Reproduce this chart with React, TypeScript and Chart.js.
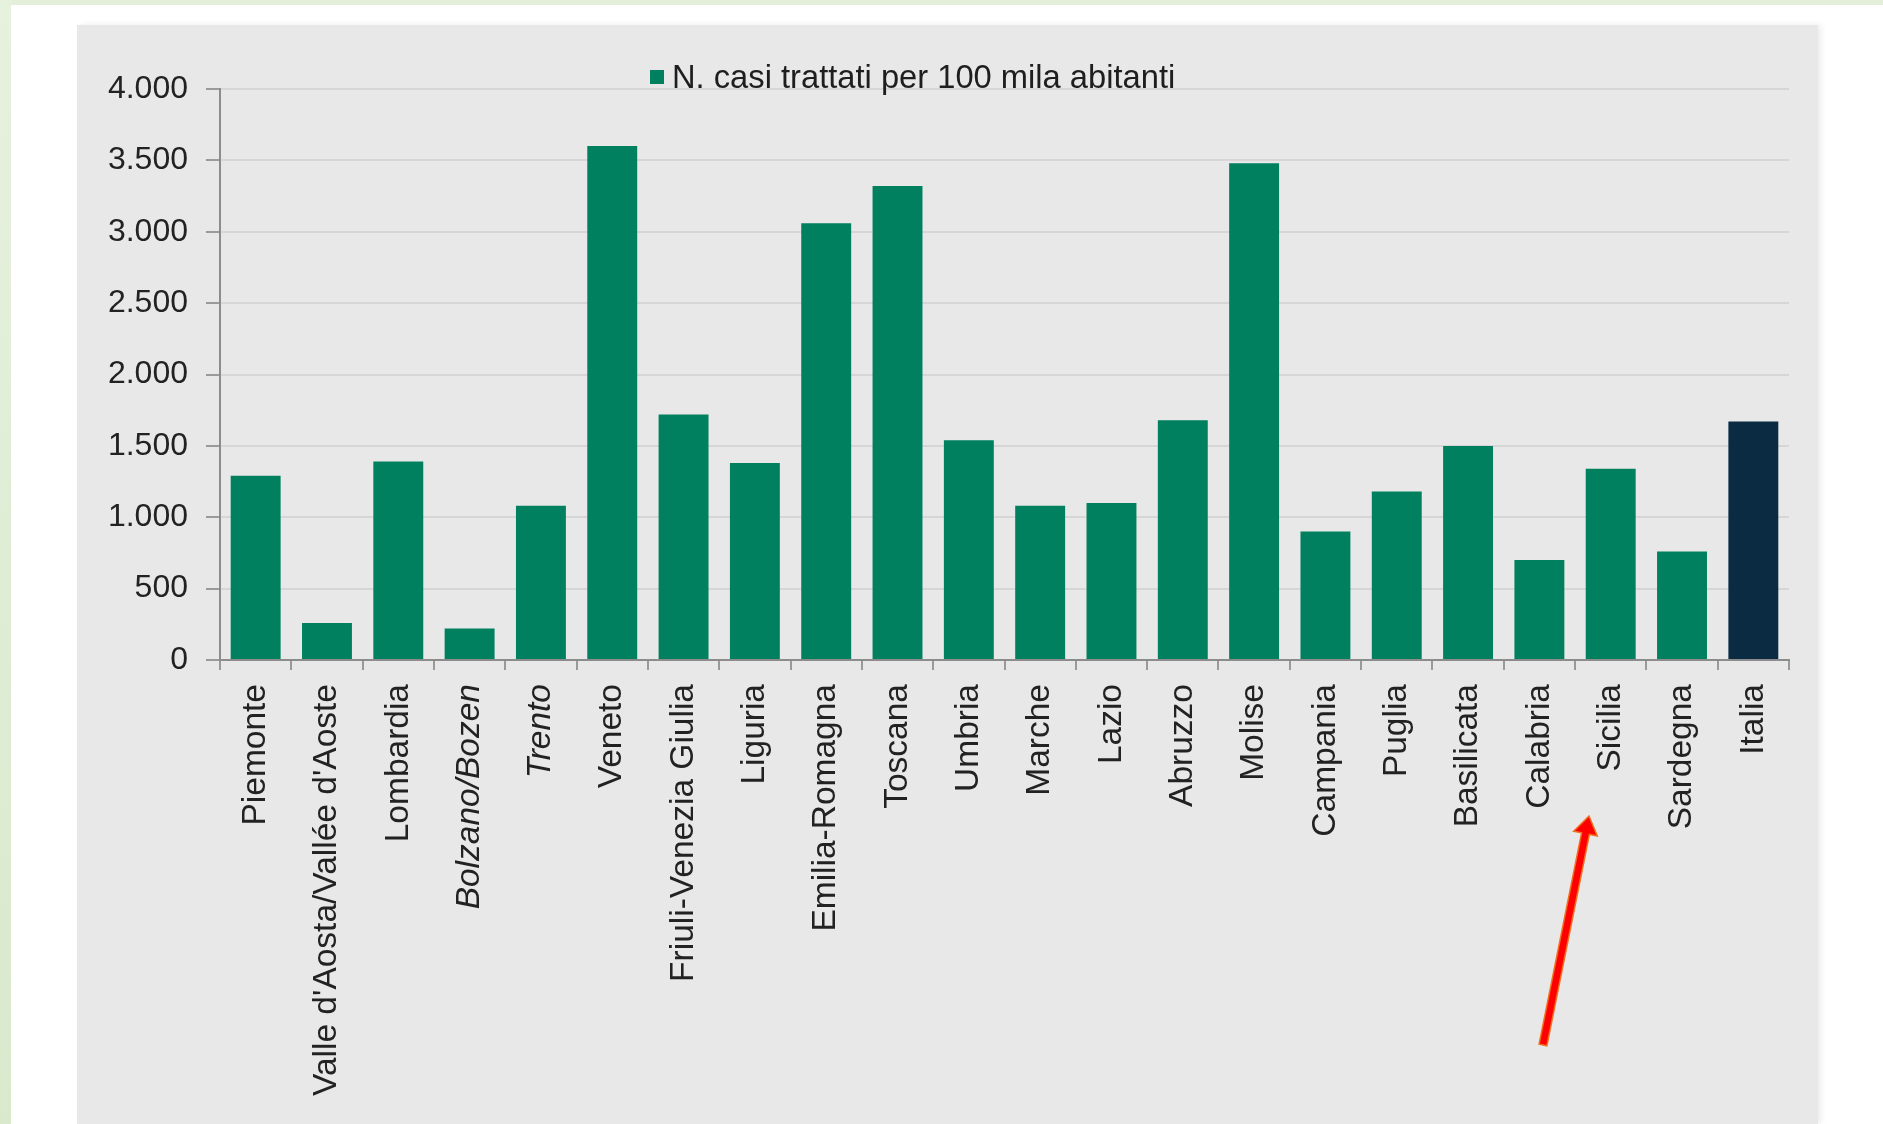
import { useEffect, useRef } from "react";
import { Chart, registerables } from "chart.js";

Chart.register(...registerables);

const categories = [
  "Piemonte",
  "Valle d'Aosta/Vallée d'Aoste",
  "Lombardia",
  "Bolzano/Bozen",
  "Trento",
  "Veneto",
  "Friuli-Venezia Giulia",
  "Liguria",
  "Emilia-Romagna",
  "Toscana",
  "Umbria",
  "Marche",
  "Lazio",
  "Abruzzo",
  "Molise",
  "Campania",
  "Puglia",
  "Basilicata",
  "Calabria",
  "Sicilia",
  "Sardegna",
  "Italia",
];

const casiTrattati = [
  1290, 260, 1390, 220, 1080, 3600, 1720, 1380, 3060, 3320, 1540, 1080, 1100,
  1680, 3480, 900, 1180, 1500, 700, 1340, 760, 1670,
];

const seriesLabel = "N. casi trattati per 100 mila abitanti";
const italicCategories = ["Bolzano/Bozen", "Trento"];
const highlightCategory = "Italia";
const yMin = 0;
const yMax = 4000;
const yStep = 500;

const FONT = "'Liberation Sans', Arial, Helvetica, sans-serif";
const GREEN = "#00805f";
const NAVY = "#0b2b42";

function formatIt(v: number): string {
  return String(Math.round(v)).replace(/\B(?=(\d{3})+(?!\d))/g, ".");
}

export default function App() {
  const canvasRef = useRef<HTMLCanvasElement | null>(null);

  useEffect(() => {
    const canvas = canvasRef.current;
    if (!canvas) return;
    const chart = new Chart(canvas, {
      type: "bar",
      data: {
        labels: categories,
        datasets: [
          {
            label: seriesLabel,
            data: casiTrattati,
            backgroundColor: categories.map((c) =>
              c === highlightCategory ? NAVY : GREEN
            ),
            borderWidth: 0,
            barPercentage: 0.7,
            categoryPercentage: 1,
          },
        ],
      },
      options: {
        animation: false,
        responsive: false,
        maintainAspectRatio: false,
        layout: { padding: { top: 64, right: 29, left: 0, bottom: 0 } },
        plugins: {
          legend: { display: false },
          tooltip: { enabled: false },
        },
        scales: {
          x: {
            offset: true,
            grid: {
              offset: true,
              drawOnChartArea: false,
              drawTicks: true,
              tickLength: 10,
              tickColor: "#9a9a9a",
              lineWidth: 2,
            },
            border: { display: true, color: "#8c8c8c", width: 2 },
            ticks: {
              autoSkip: false,
              minRotation: 90,
              maxRotation: 90,
              padding: 14,
              color: "#222222",
              font: (ctx: any) => ({
                family: FONT,
                size: 33.5,
                style: italicCategories.includes(categories[ctx.index])
                  ? "italic"
                  : "normal",
              }),
            },
            afterFit: (scale: any) => {
              scale.height = 464;
            },
          },
          y: {
            min: yMin,
            max: yMax,
            ticks: {
              stepSize: yStep,
              padding: 18,
              color: "#222222",
              font: { family: FONT, size: 32 },
              callback: (v: any) => formatIt(Number(v)),
            },
            grid: {
              color: "#d6d6d6",
              lineWidth: 2,
              drawTicks: true,
              tickLength: 14,
              tickColor: "#9a9a9a",
            },
            border: { display: true, color: "#8c8c8c", width: 2 },
            afterFit: (scale: any) => {
              scale.width = 143;
            },
          },
        },
      },
    });
    return () => chart.destroy();
  }, []);

  return (
    <div
      style={{
        position: "fixed",
        left: 0,
        top: 0,
        width: 1883,
        height: 1124,
        overflow: "hidden",
        background: "#ffffff",
        fontFamily: FONT,
      }}
    >
      <div
        style={{
          position: "absolute",
          left: 0,
          top: 0,
          width: 1883,
          height: 5,
          background: "#e4efdb",
        }}
      />
      <div
        style={{
          position: "absolute",
          left: 0,
          top: 0,
          width: 11,
          height: 1124,
          background: "linear-gradient(to bottom, #e6f1de, #d9e9cc)",
        }}
      />
      <div
        style={{
          position: "absolute",
          left: 77,
          top: 25,
          width: 1741,
          height: 1099,
          background: "#e8e8e8",
          boxShadow: "3px 0 6px rgba(0,0,0,0.08)",
        }}
      >
        <canvas
          ref={canvasRef}
          width={1741}
          height={1099}
          style={{ position: "absolute", left: 0, top: 0, width: 1741, height: 1099 }}
        />
        <div
          style={{
            position: "absolute",
            left: 573,
            top: 33,
            height: 38,
            display: "flex",
            alignItems: "center",
            whiteSpace: "nowrap",
            fontSize: 32.7,
            color: "#1e1e1e",
          }}
        >
          <span
            style={{
              display: "inline-block",
              width: 14,
              height: 14,
              background: GREEN,
              marginRight: 8,
            }}
          />
          <span>{seriesLabel}</span>
        </div>
      </div>
      <svg
        width={1883}
        height={1124}
        style={{ position: "absolute", left: 0, top: 0, pointerEvents: "none" }}
      >
        <polygon
          points="1539.1,1044.2 1581.6,832.8 1573.7,831.2 1589,816 1597.3,836.0 1589.4,834.4 1546.9,1045.8"
          fill="#ff0000"
          stroke="#f07020"
          strokeWidth={1.5}
          strokeLinejoin="miter"
        />
      </svg>
    </div>
  );
}
